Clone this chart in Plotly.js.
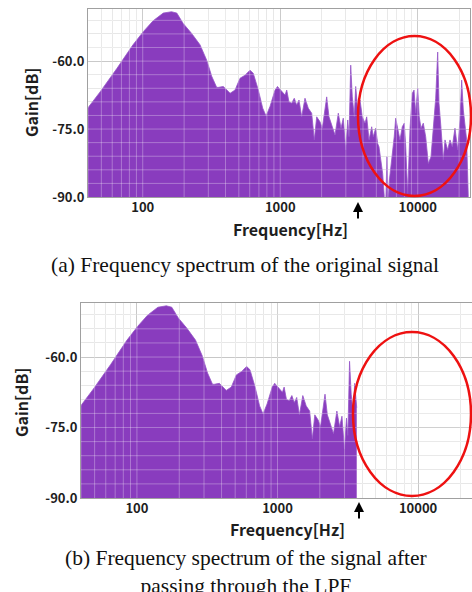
<!DOCTYPE html>
<html><head><meta charset="utf-8">
<script src="https://cdn.plot.ly/plotly-3.0.1.min.js"></script>
<style>html,body{margin:0;padding:0;background:#fff;}#chart{width:472px;height:592px;}</style>
</head><body><div id="chart"></div>
<script>
// ---- data ----
const freqHz = [40,49,65,85,101,119,141,162,177,197,
  227,261,292,318,345,355,386,432,469,510,
  555,603,637,693,746,789,843,917,955,1026,
  1084,1115,1158,1211,1265,1317,1370,1432,1514,1600,
  1694,1770,1842,1947,2024,2178,2263,2393,2503,2645,
  2767,2875,2995,3097,3165,3256,3344,3457,3539,3661,
  3806,3954,4137,4256,4426,4627,4753,4946,5112,5227,
  5404,5559,5711,5846,5976,6108,6237,6459,6745,6914,
  7148,7430,7722,7983,8181,8455,8790,9138,9399,9667,
  9995,10260,10560,10980,11430,11940,12490,12990,13510,13970,
  14280,14770,15350,15790,16510,17170,17840,18660,19520,20300,
  20880,21460,22070,22700,23320,24000];
const gainDb = [-70.3,-66.8,-61.6,-56.4,-53.5,-51.1,-49.4,-49.1,-49.4,-51.7,
  -53.9,-56.4,-59.8,-63.4,-65.8,-65.8,-65.6,-67.1,-66.4,-63.8,
  -63.1,-62.0,-62.7,-66.4,-70.4,-72.1,-70.0,-66.4,-65.6,-66.8,
  -67.5,-66.4,-69.0,-69.3,-68.2,-69.7,-68.6,-72.3,-68.2,-70.4,
  -71.5,-77.4,-72.3,-73.4,-74.8,-67.9,-72.3,-74.5,-76.3,-71.5,
  -74.8,-72.6,-79.6,-73.0,-76.7,-60.9,-67.9,-72.3,-65.6,-70.8,
  -68.6,-72.3,-73.7,-72.3,-77.4,-74.5,-76.7,-74.8,-78.2,-78.9,
  -82.6,-84.8,-89.9,-92,-81.1,-91,-86.0,-82.0,-76.7,-72.6,
  -74.8,-77.4,-74.5,-73.7,-78.9,-89.2,-74.8,-67.1,-66.4,-71.5,
  -66.0,-72.3,-74.8,-73.7,-76.7,-82.6,-81.1,-74.8,-68.2,-58.0,
  -69.3,-74.8,-81.8,-77.4,-79.6,-77.4,-78.9,-74.8,-79.6,-73.0,
  -64.2,-70.8,-74.8,-77.4,-89.9,-92];
const cutoffHz = 3700;           // LPF cut-off (arrow)
const floorDb = -90;
const xTickVals = [100, 1000, 10000];
const xTickText = ['100', '1000', '10000'];
const yTickVals = [-90, -75, -60];
const yTickText = ['-90.0', '-75.0', '-60.0'];
const captionA = '(a) Frequency spectrum of the original signal';
const captionB = '(b) Frequency spectrum of the signal after<br>passing through the LPF';
const xTitle = 'Frequency[Hz]';
const yTitle = 'Gain[dB]';

// ---- derived ----
const lpfFreq = freqHz.filter(f => f <= cutoffHz);
const lpfGain = gainDb.slice(0, lpfFreq.length);

const W = 472, H = 592;
const px = v => v / W, py = v => 1 - v / H;
const PURPLE = 'rgb(137,60,190)';
const tickFont = {family: 'Noto Sans CJK JP, Noto Sans, sans-serif', size: 13, weight: 700, color: '#1e1e1e'};
const titleFont = {family: 'Noto Sans CJK JP, Noto Sans, sans-serif', size: 16, weight: 700, color: '#1e1e1e'};
const capFont = {family: 'Liberation Serif, Times New Roman, serif', size: 21.5, color: '#111'};

const minorX = [];
for (let k = 1; k <= 4; k++) for (let d = 2; d <= 9; d++) { const v = d * Math.pow(10, k); if (v >= 40 && v <= 24000) minorX.push(v); }
const minorY = [];
for (let v = -87; v <= -48; v += 3) if (v !== -75 && v !== -60) minorY.push(v);

function baseline(xs) { return {x: xs, y: xs.map(() => floorDb), mode: 'lines', line: {width: 0, color: PURPLE}, hoverinfo: 'skip', showlegend: false}; }
function spectrum(xs, ys) { return {x: xs, y: ys, mode: 'lines', fill: 'tonexty', fillcolor: PURPLE, line: {width: 0.8, color: 'rgb(150,85,200)'}, showlegend: false}; }

const t0 = Object.assign(baseline(freqHz), {xaxis: 'x', yaxis: 'y'});
const t1 = Object.assign(spectrum(freqHz, gainDb), {xaxis: 'x', yaxis: 'y'});
const t2 = Object.assign(baseline(lpfFreq), {xaxis: 'x2', yaxis: 'y2'});
const t3 = Object.assign(spectrum(lpfFreq, lpfGain), {xaxis: 'x2', yaxis: 'y2'});

function xAxis(dom, anchor) {
  return {type: 'log', domain: dom, anchor: anchor, range: [Math.log10(40), Math.log10(24000)],
    tickmode: 'array', tickvals: xTickVals, ticktext: xTickText, ticks: '', tickfont: tickFont, ticklabelstandoff: -2,
    showgrid: true, gridcolor: '#bdbdbd', gridwidth: 1,
    minor: {tickmode: 'array', tickvals: minorX, showgrid: true, gridcolor: '#e2e2e2', ticks: ''},
    showline: true, linecolor: '#a0a0a0', linewidth: 1, mirror: true, zeroline: false, fixedrange: true};
}
function yAxis(dom, anchor) {
  return {domain: dom, anchor: anchor, range: [floorDb, -48.5],
    tickmode: 'array', tickvals: yTickVals, ticktext: yTickText, ticks: '', tickfont: tickFont,
    showgrid: true, gridcolor: '#bdbdbd', gridwidth: 1,
    minor: {tickmode: 'array', tickvals: minorY, showgrid: true, gridcolor: '#e2e2e2', ticks: ''},
    showline: true, linecolor: '#a0a0a0', linewidth: 1, mirror: true, zeroline: false, fixedrange: true};
}

const shapes = [];
// light grid lines drawn over the filled area
[['x', 'y'], ['x2', 'y2']].forEach(([xa, ya]) => {
  minorX.concat(xTickVals).forEach(v => shapes.push({type: 'line', layer: 'above', xref: xa, yref: ya + ' domain', x0: v, x1: v, y0: 0, y1: 1, line: {color: 'rgba(255,255,255,0.3)', width: 1}}));
  minorY.concat(yTickVals.slice(1)).forEach(v => shapes.push({type: 'line', layer: 'above', xref: xa + ' domain', yref: ya, x0: 0, x1: 1, y0: v, y1: v, line: {color: 'rgba(255,255,255,0.3)', width: 1}}));
});
// red ellipses
shapes.push({type: 'circle', xref: 'paper', yref: 'paper', x0: px(358), x1: px(471), y0: py(196), y1: py(36), line: {color: '#ee1111', width: 2.5}});
shapes.push({type: 'circle', xref: 'paper', yref: 'paper', x0: px(353), x1: px(471), y0: py(496), y1: py(332), line: {color: '#ee1111', width: 2.5}});

const mid = {xref: 'paper', yref: 'paper', xanchor: 'center', yanchor: 'middle', showarrow: false};
const annotations = [
  Object.assign({text: yTitle, x: px(31), y: py(103), textangle: -90, font: titleFont}, mid),
  Object.assign({text: xTitle, x: px(290), y: py(229), font: titleFont}, mid),
  Object.assign({text: yTitle, x: px(21), y: py(403), textangle: -90, font: titleFont}, mid),
  Object.assign({text: xTitle, x: px(287), y: py(529), font: titleFont}, mid),
  Object.assign({text: captionA, x: px(245), y: py(265), font: capFont}, mid),
  Object.assign({text: captionB, x: px(246), y: py(572), font: capFont, align: 'center'}, mid),
  {text: '', xref: 'paper', yref: 'paper', x: px(358), y: py(202), ax: 0, ay: 18, showarrow: true, arrowhead: 2, arrowsize: 1, arrowwidth: 2, arrowcolor: '#000'},
  {text: '', xref: 'paper', yref: 'paper', x: px(359), y: py(502), ax: 0, ay: 18, showarrow: true, arrowhead: 2, arrowsize: 1, arrowwidth: 2, arrowcolor: '#000'}
];

const layout = {
  width: W, height: H, margin: {l: 0, r: 0, t: 0, b: 0},
  paper_bgcolor: '#fff', plot_bgcolor: '#fff', showlegend: false,
  xaxis: xAxis([px(88), px(470)], 'y'),
  yaxis: yAxis([py(197), py(9)], 'x'),
  xaxis2: xAxis([px(81), px(471.5)], 'y2'),
  yaxis2: yAxis([py(498), py(303)], 'x2'),
  shapes: shapes, annotations: annotations
};

Plotly.newPlot('chart', [t0, t1, t2, t3], layout, {displayModeBar: false, staticPlot: true});
</script></body></html>
